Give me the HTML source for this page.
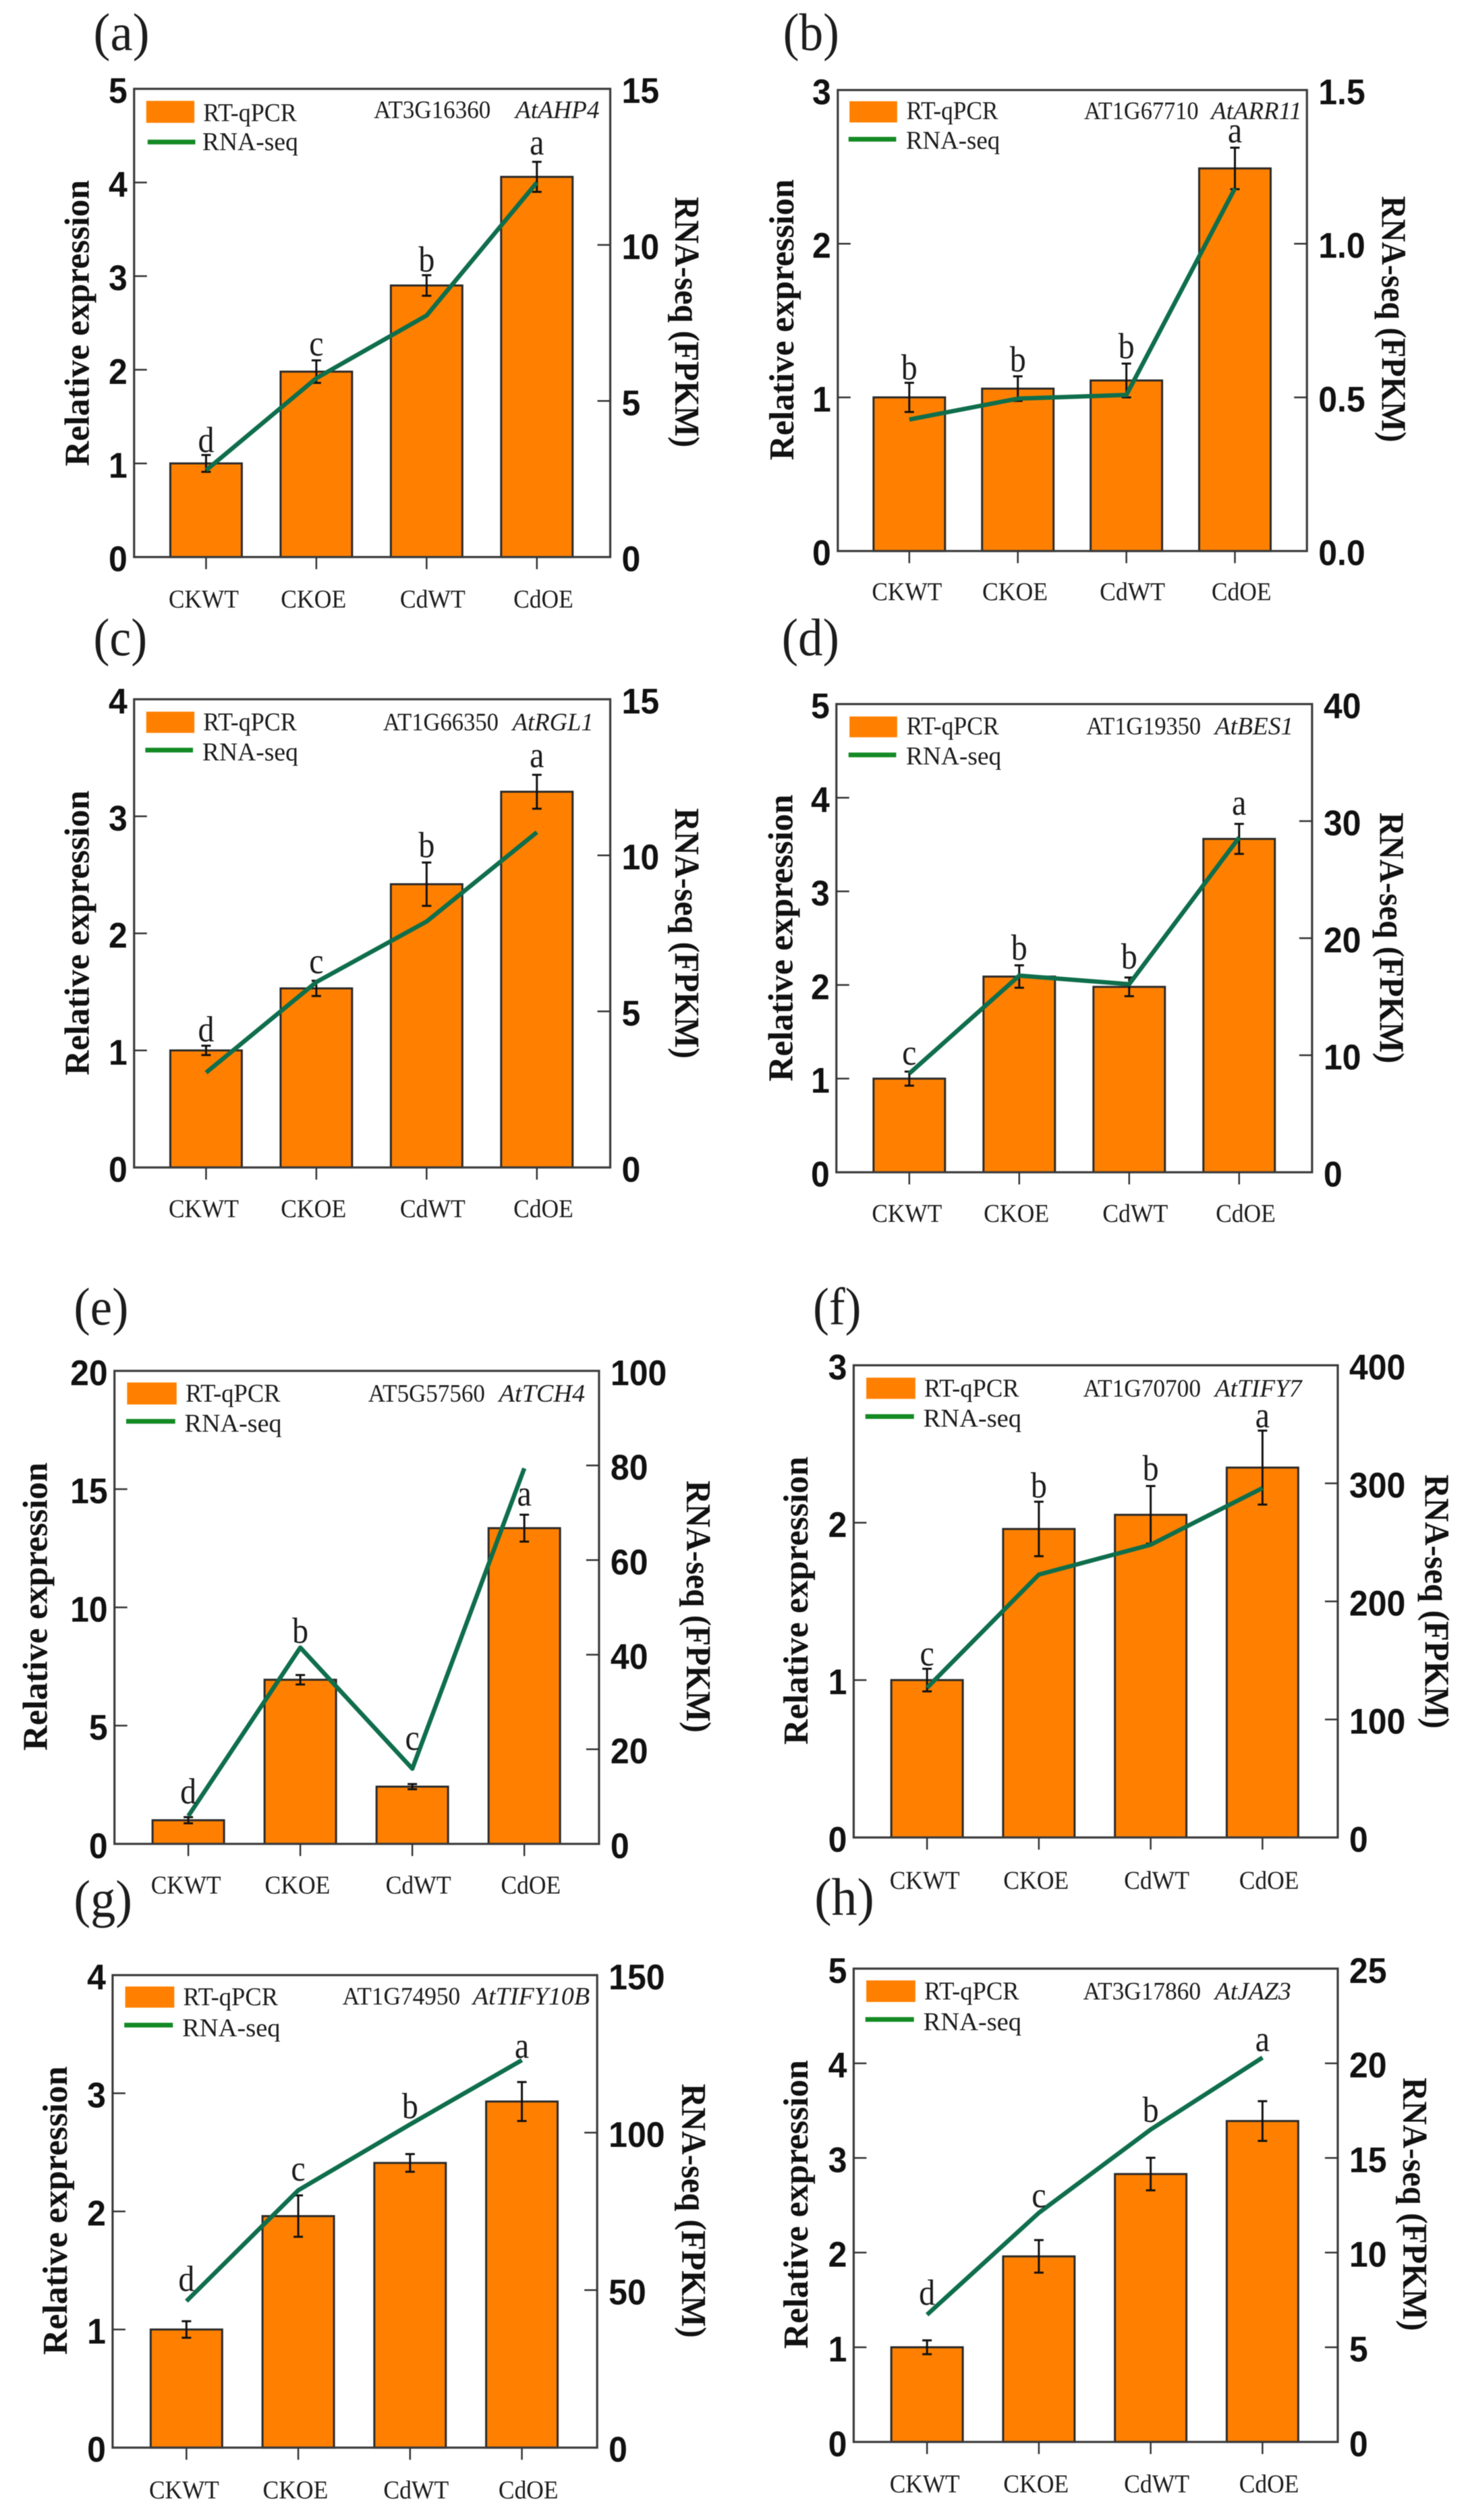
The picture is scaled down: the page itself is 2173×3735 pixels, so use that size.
<!DOCTYPE html>
<html lang="en">
<head>
<meta charset="utf-8">
<title>Relative expression and RNA-seq panels</title>
<style>
html,body{margin:0;padding:0;background:#fff;}
svg{display:block;filter:blur(0.6px);}
text{font-family:"Liberation Serif",serif;fill:#1c1c1c;}
.num{font-family:"Liberation Sans",sans-serif;font-weight:bold;fill:#111;font-size:53px;}
.ttl{font-weight:bold;font-size:52px;fill:#111;}
</style>
</head>
<body>
<svg id="figure" xmlns="http://www.w3.org/2000/svg" width="2173" height="3735" viewBox="0 0 2173 3735"></svg>
<script>
// ---------- chart data ----------
const categories = ['CKWT', 'CKOE', 'CdWT', 'CdOE'];

const aGene = 'AT3G16360';
const aName = 'AtAHP4';
const aLeftTicks = [0, 1, 2, 3, 4, 5];
const aRightTicks = ['0', '5', '10', '15'];
const aQpcr = [1.0, 1.98, 2.9, 4.06];
const aErr = [0.09, 0.12, 0.11, 0.16];
const aRna = [2.78, 5.73, 7.74, 12.0];
const aSig = ['d', 'c', 'b', 'a'];
const aSigAt = [1.12, 2.15, 3.05, 4.30];

const bGene = 'AT1G67710';
const bName = 'AtARR11';
const bLeftTicks = [0, 1, 2, 3];
const bRightTicks = ['0.0', '0.5', '1.0', '1.5'];
const bQpcr = [1.0, 1.057, 1.11, 2.49];
const bErr = [0.095, 0.08, 0.11, 0.135];
const bRna = [0.428, 0.496, 0.508, 1.18];
const bSig = ['b', 'b', 'b', 'a'];
const bSigAt = [1.117, 1.169, 1.255, 2.66];

const cGene = 'AT1G66350';
const cName = 'AtRGL1';
const cLeftTicks = [0, 1, 2, 3, 4];
const cRightTicks = ['0', '5', '10', '15'];
const cQpcr = [1.0, 1.53, 2.42, 3.21];
const cErr = [0.04, 0.065, 0.185, 0.145];
const cRna = [3.04, 5.94, 7.88, 10.74];
const cSig = ['d', 'c', 'b', 'a'];
const cSigAt = [1.077, 1.66, 2.65, 3.42];

const dGene = 'AT1G19350';
const dName = 'AtBES1';
const dLeftTicks = [0, 1, 2, 3, 4, 5];
const dRightTicks = ['0', '10', '20', '30', '40'];
const dQpcr = [1.0, 2.09, 1.98, 3.56];
const dErr = [0.075, 0.12, 0.1, 0.16];
const dRna = [8.44, 16.8, 16.07, 28.6];
const dSig = ['c', 'b', 'b', 'a'];
const dSigAt = [1.15, 2.27, 2.175, 3.82];

const eGene = 'AT5G57560';
const eName = 'AtTCH4';
const eLeftTicks = [0, 5, 10, 15, 20];
const eRightTicks = ['0', '20', '40', '60', '80', '100'];
const eQpcr = [1.0, 6.94, 2.42, 13.35];
const eErr = [0.13, 0.2, 0.11, 0.57];
const eRna = [5.9, 41.5, 15.9, 79.4];
const eSig = ['d', 'b', 'c', 'a'];
const eSigAt = [1.71, 8.5, 3.98, 14.3];

const fGene = 'AT1G70700';
const fName = 'AtTIFY7';
const fLeftTicks = [0, 1, 2, 3];
const fRightTicks = ['0', '100', '200', '300', '400'];
const fQpcr = [1.0, 1.96, 2.05, 2.35];
const fErr = [0.072, 0.173, 0.183, 0.235];
const fRna = [126.8, 222.7, 248, 296];
const fSig = ['c', 'b', 'b', 'a'];
const fSigAt = [1.093, 2.16, 2.27, 2.606];

const gGene = 'AT1G74950';
const gName = 'AtTIFY10B';
const gLeftTicks = [0, 1, 2, 3, 4];
const gRightTicks = ['0', '50', '100', '150'];
const gQpcr = [1.0, 1.96, 2.41, 2.93];
const gErr = [0.07, 0.175, 0.075, 0.165];
const gRna = [46.5, 81.7, 102.6, 123];
const gSig = ['d', 'c', 'b', 'a'];
const gSigAt = [1.325, 2.26, 2.79, 3.30];

const hGene = 'AT3G17860';
const hName = 'AtJAZ3';
const hLeftTicks = [0, 1, 2, 3, 4, 5];
const hRightTicks = ['0', '5', '10', '15', '20', '25'];
const hQpcr = [1.0, 1.96, 2.83, 3.39];
const hErr = [0.073, 0.172, 0.172, 0.21];
const hRna = [6.72, 12.1, 16.5, 20.3];
const hSig = ['d', 'c', 'b', 'a'];
const hSigAt = [1.45, 2.48, 3.38, 4.13];

// ---------- panel wiring (layout lives with the frame, not the data) ----------
const panels = [
 {id:'a',label:'(a)',ox:0,oy:0,fy:930/1568,L:287,R:1306,T:222,B:1392,c0:441,step:236,
  gene:aGene,name:aName,lt:aLeftTicks,rt:aRightTicks,q:aQpcr,e:aErr,r:aRna,s:aSig,sa:aSigAt,
  sw:[313,416,252,307],t1:[435,635,303],t2:[433,638,375],ln:[316,418,355],gn:[800,1050,295],it:[1103,1283,295],
  yt:[190,450,1165],rtt:[1445,492,1118],lab:[200,320,125],catB:126},
 {id:'b',label:'(b)',ox:1086,oy:0,fy:930/1568,L:225,R:1229,T:225,B:1377,c0:378,step:232.3,
  gene:bGene,name:bName,lt:bLeftTicks,rt:bRightTicks,q:bQpcr,e:bErr,r:bRna,s:bSig,sa:bSigAt,
  sw:[250,352,253,306],t1:[372,568,298],t2:[371,572,372],ln:[248,350,348],gn:[752,997,298],it:[1024,1218,298],
  yt:[130,448,1150],rtt:[1390,490,1105],lab:[108,228,125],catB:123},
 {id:'c',label:'(c)',ox:0,oy:900,fy:930/1568,L:287,R:1306,T:230,B:1400,c0:441,step:236,
  gene:cGene,name:cName,lt:cLeftTicks,rt:cRightTicks,q:cQpcr,e:cErr,r:cRna,s:cSig,sa:cSigAt,
  sw:[313,416,261,314],t1:[435,635,308],t2:[433,638,383],ln:[311,413,357],gn:[820,1067,308],it:[1097,1270,308],
  yt:[190,458,1170],rtt:[1445,502,1128],lab:[200,315,120],catB:124},
 {id:'d',label:'(d)',ox:1086,oy:900,fy:930/1568,L:222,R:1240,T:242,B:1412,c0:378,step:235.3,
  gene:dGene,name:dName,lt:dLeftTicks,rt:dRightTicks,q:dQpcr,e:dErr,r:dRna,s:dSig,sa:dSigAt,
  sw:[250,352,273,325],t1:[372,570,318],t2:[371,575,393],ln:[248,350,369],gn:[757,1002,318],it:[1032,1200,318],
  yt:[128,468,1185],rtt:[1385,513,1140],lab:[105,228,120],catB:124},
 {id:'e',label:'(e)',ox:0,oy:1880,fy:930/1568,L:245,R:1282,T:256,B:1438,c0:403,step:239.7,
  gene:eGene,name:eName,lt:eLeftTicks,rt:eRightTicks,q:eQpcr,e:eErr,r:eRna,s:eSig,sa:eSigAt,
  sw:[272,378,285,340],t1:[397,600,333],t2:[395,603,408],ln:[270,375,382],gn:[788,1038,333],it:[1068,1252,333],
  yt:[100,485,1205],rtt:[1470,530,1160],lab:[158,275,140],catB:124},
 {id:'f',label:'(f)',ox:1086,oy:1880,fy:930/1568,L:259,R:1295,T:242,B:1422,c0:416,step:239.3,
  gene:fGene,name:fName,lt:fLeftTicks,rt:fRightTicks,q:fQpcr,e:fErr,r:fRna,s:fSig,sa:fSigAt,
  sw:[286,391,273,326],t1:[410,613,320],t2:[408,618,395],ln:[284,388,370],gn:[750,1002,320],it:[1032,1218,320],
  yt:[160,470,1190],rtt:[1482,515,1150],lab:[172,275,140],catB:128},
 {id:'g',label:'(g)',ox:0,oy:2790,fy:945/1568,L:241,R:1278,T:228,B:1390,c0:399,step:239.3,
  gene:gGene,name:gName,lt:gLeftTicks,rt:gRightTicks,q:gQpcr,e:gErr,r:gRna,s:gSig,sa:gSigAt,
  sw:[268,373,256,308],t1:[392,595,302],t2:[390,600,378],ln:[266,370,351],gn:[733,985,300],it:[1012,1262,300],
  yt:[143,452,1162],rtt:[1460,495,1120],lab:[158,283,85],catB:125},
 {id:'h',label:'(h)',ox:1086,oy:2790,fy:945/1568,L:259,R:1295,T:212,B:1376,c0:416,step:239.3,
  gene:hGene,name:hName,lt:hLeftTicks,rt:hRightTicks,q:hQpcr,e:hErr,r:hRna,s:hSig,sa:hSigAt,
  sw:[286,391,241,294],t1:[410,613,288],t2:[408,618,363],ln:[284,388,337],gn:[750,1002,288],it:[1032,1195,288],
  yt:[160,437,1147],rtt:[1435,480,1103],lab:[175,303,80],catB:124}
];

const FX = 1086 / 1568;
const BAR_W = 153 * FX;
const CAT_DX = [-5, -6, 13, 14];
const CAT_W = [150, 140, 140, 128];
const NS = 'http://www.w3.org/2000/svg';
const root = document.getElementById('figure');

function mk(parent, tag, attrs, content) {
  const el = document.createElementNS(NS, tag);
  for (const k in attrs) el.setAttribute(k, attrs[k]);
  if (content !== undefined) el.textContent = content;
  parent.appendChild(el);
  return el;
}

function numWidth(s) {
  let w = 0;
  for (const ch of s) w += (ch === '.' ? 0.278 : 0.556) * 50;
  return w;
}

panels.forEach(function (p) {
  const X = function (d) { return p.ox + d * FX; };
  const Y = function (d) { return p.oy + d * p.fy; };
  const left = X(p.L), right = X(p.R), top = Y(p.T), bottom = Y(p.B);
  const leftMax = p.lt[p.lt.length - 1];
  const rightMax = parseFloat(p.rt[p.rt.length - 1]);
  const yL = function (v) { return bottom - v / leftMax * (bottom - top); };
  const yR = function (v) { return bottom - v / rightMax * (bottom - top); };
  const xC = function (i) { return X(p.c0 + i * p.step); };

  const g = mk(root, 'g', {});
  
  

  const lab = mk(g, 'text', {x: X(p.lab[0]), y: Y(p.lab[2]), 'font-size': 78, textLength: (p.lab[1] - p.lab[0]) * FX, lengthAdjust: 'spacingAndGlyphs', fill: '#111'}, p.label);
  
  

  // bars
  p.q.forEach(function (v, i) {
    const bar = mk(g, 'rect', {x: xC(i) - BAR_W / 2, y: yL(v), width: BAR_W, height: bottom - yL(v), fill: '#ff8000', stroke: '#2a2a2a', 'stroke-width': 3});
    
    
  });

  // frame
  const frame = mk(g, 'rect', {x: left, y: top, width: right - left, height: bottom - top, fill: 'none', stroke: '#3c3c3c', 'stroke-width': 3.2});
  
  

  // left axis
  p.lt.forEach(function (v) {
    const y = yL(v);
    if (v !== 0 && v !== leftMax) {
      const t = mk(g, 'line', {x1: left, x2: left + 19, y1: y, y2: y, stroke: '#333', 'stroke-width': 2.5});
      
      
    }
    const n = mk(g, 'text', {x: left - 10, y: y + 21, 'text-anchor': 'end', class: 'num', textLength: numWidth(String(v)), lengthAdjust: 'spacingAndGlyphs'}, String(v));
    
    
  });

  // right axis
  p.rt.forEach(function (s) {
    const y = yR(parseFloat(s));
    if (parseFloat(s) !== 0 && parseFloat(s) !== rightMax) {
      const t = mk(g, 'line', {x1: right - 19, x2: right, y1: y, y2: y, stroke: '#333', 'stroke-width': 2.5});
      
      
    }
    const n = mk(g, 'text', {x: right + 17, y: y + 21, class: 'num', textLength: numWidth(s), lengthAdjust: 'spacingAndGlyphs'}, s);
    
    
  });

  // categories
  categories.forEach(function (c, i) {
    const t = mk(g, 'line', {x1: xC(i), x2: xC(i), y1: bottom, y2: bottom + 18, stroke: '#333', 'stroke-width': 2.5});
    
    
    const n = mk(g, 'text', {x: xC(i) + CAT_DX[i] * FX, y: bottom + p.catB * p.fy, 'text-anchor': 'middle', 'font-size': 38, textLength: CAT_W[i] * FX, lengthAdjust: 'spacingAndGlyphs'}, c);
    
    
  });

  // error bars
  p.q.forEach(function (v, i) {
    const x = xC(i), y1 = yL(v + p.e[i]), y2 = yL(v - p.e[i]);
    const eb = mk(g, 'path', {d: 'M' + (x - 7) + ' ' + y1 + 'H' + (x + 7) + 'M' + x + ' ' + y1 + 'V' + y2 + 'M' + (x - 7) + ' ' + y2 + 'H' + (x + 7), fill: 'none', stroke: '#111', 'stroke-width': 3});
    
    
  });

  // RNA-seq line
  const pts = p.r.map(function (v, i) { return xC(i) + ',' + yR(v); }).join(' ');
  const line = mk(g, 'polyline', {points: pts, fill: 'none', stroke: '#0f6e4c', 'stroke-width': 6.5, 'stroke-linejoin': 'round'});
  
  

  // significance letters
  p.s.forEach(function (s, i) {
    const t = mk(g, 'text', {x: xC(i), y: yL(p.sa[i]), 'text-anchor': 'middle', 'font-size': 54, textLength: (s === 'a' || s === 'c' ? 0.444 : 0.5) * 48, lengthAdjust: 'spacingAndGlyphs', fill: '#111'}, s);
    
    
  });

  // legend
  const sw = mk(g, 'rect', {x: X(p.sw[0]), y: Y(p.sw[2]), width: (p.sw[1] - p.sw[0]) * FX, height: (p.sw[3] - p.sw[2]) * p.fy, fill: '#ff8000'});
  
  
  const t1 = mk(g, 'text', {x: X(p.t1[0]), y: Y(p.t1[2]), 'font-size': 38, textLength: (p.t1[1] - p.t1[0]) * FX, lengthAdjust: 'spacingAndGlyphs'}, 'RT-qPCR');
  
  
  const ln = mk(g, 'line', {x1: X(p.ln[0]), x2: X(p.ln[1]), y1: Y(p.ln[2]), y2: Y(p.ln[2]), stroke: '#148a24', 'stroke-width': 7});
  
  
  const t2 = mk(g, 'text', {x: X(p.t2[0]), y: Y(p.t2[2]), 'font-size': 38, textLength: (p.t2[1] - p.t2[0]) * FX, lengthAdjust: 'spacingAndGlyphs'}, 'RNA-seq');
  
  

  // gene id and name
  const gn = mk(g, 'text', {x: X(p.gn[0]), y: Y(p.gn[2]), 'font-size': 37, textLength: (p.gn[1] - p.gn[0]) * FX, lengthAdjust: 'spacingAndGlyphs'}, p.gene);
  
  
  const it = mk(g, 'text', {x: X(p.it[0]), y: Y(p.it[2]), 'font-size': 37, 'font-style': 'italic', textLength: (p.it[1] - p.it[0]) * FX, lengthAdjust: 'spacingAndGlyphs'}, p.name);
  
  

  // axis titles
  const ltx = X(p.yt[0]), lty = Y((p.yt[1] + p.yt[2]) / 2);
  const yt = mk(g, 'text', {x: ltx, y: lty, class: 'ttl', 'text-anchor': 'middle', transform: 'rotate(-90 ' + ltx + ' ' + lty + ')', textLength: (p.yt[2] - p.yt[1]) * p.fy, lengthAdjust: 'spacingAndGlyphs'}, 'Relative expression');
  
  
  const rtx = X(p.rtt[0]), rty = Y((p.rtt[1] + p.rtt[2]) / 2);
  const rt = mk(g, 'text', {x: rtx, y: rty, class: 'ttl', 'text-anchor': 'middle', transform: 'rotate(90 ' + rtx + ' ' + rty + ')', textLength: (p.rtt[2] - p.rtt[1]) * p.fy, lengthAdjust: 'spacingAndGlyphs', style: 'font-size:52px'}, 'RNA-seq (FPKM)');
  
  
});
</script>
</body>
</html>
